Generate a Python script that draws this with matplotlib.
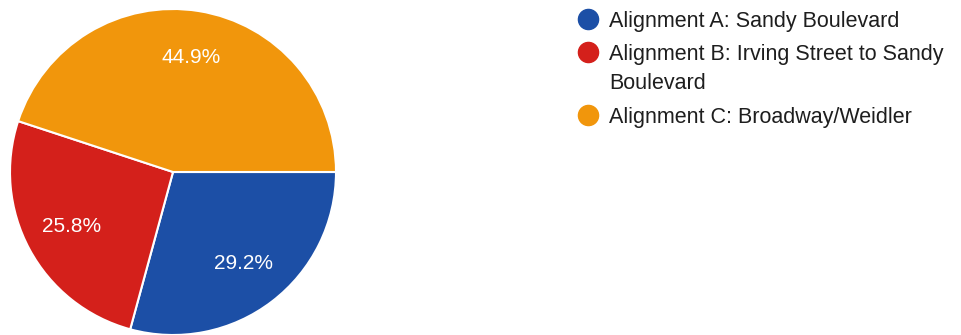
import matplotlib
matplotlib.use("Agg")
import matplotlib.pyplot as plt
from matplotlib.lines import Line2D

plt.rcParams['font.family'] = ['Liberation Sans', 'DejaVu Sans']

labels = ["Alignment A: Sandy Boulevard",
          "Alignment B: Irving Street to Sandy\nBoulevard",
          "Alignment C: Broadway/Weidler"]
shares = [29.2, 25.8, 44.9]
colors = ["#1c4fa6", "#d4201b", "#f1960c"]

W, H = 962, 335
fig = plt.figure(figsize=(W / 100, H / 100), dpi=100)
fig.patch.set_facecolor("white")

# pie area: centre (173, 172) px from top-left, radius 163 px
cx, cy, r = 173, 172, 163
ax = fig.add_axes([(cx - r) / W, (H - cy - r) / H, 2 * r / W, 2 * r / H])
wedges, texts, autotexts = ax.pie(
    shares, colors=colors, startangle=0, counterclock=False,
    autopct="%.1f%%", pctdistance=0.71, radius=1.0,
    wedgeprops=dict(edgecolor="white", linewidth=1.5),
    textprops=dict(color="white", fontsize=15))
ax.set_xlim(-1, 1)
ax.set_ylim(-1, 1)
ax.set_aspect("equal")
ax.axis("off")

# legend: coloured dots, label lines placed on fixed baselines
dot_y = [19, 52, 115]
base_y = [27, 60, 123]
line_step = 29
for lab, col, dy, by in zip(labels, colors, dot_y, base_y):
    fig.add_artist(Line2D([588 / W], [1 - dy / H], marker="o", markersize=14.5,
                          color=col, linestyle="none",
                          transform=fig.transFigure))
    for i, part in enumerate(lab.split("\n")):
        fig.text(609 / W, 1 - (by + i * line_step) / H, part, fontsize=15.5,
                 color="#1e1e1e", ha="left", va="baseline")

fig.savefig("out.png", dpi=100)
